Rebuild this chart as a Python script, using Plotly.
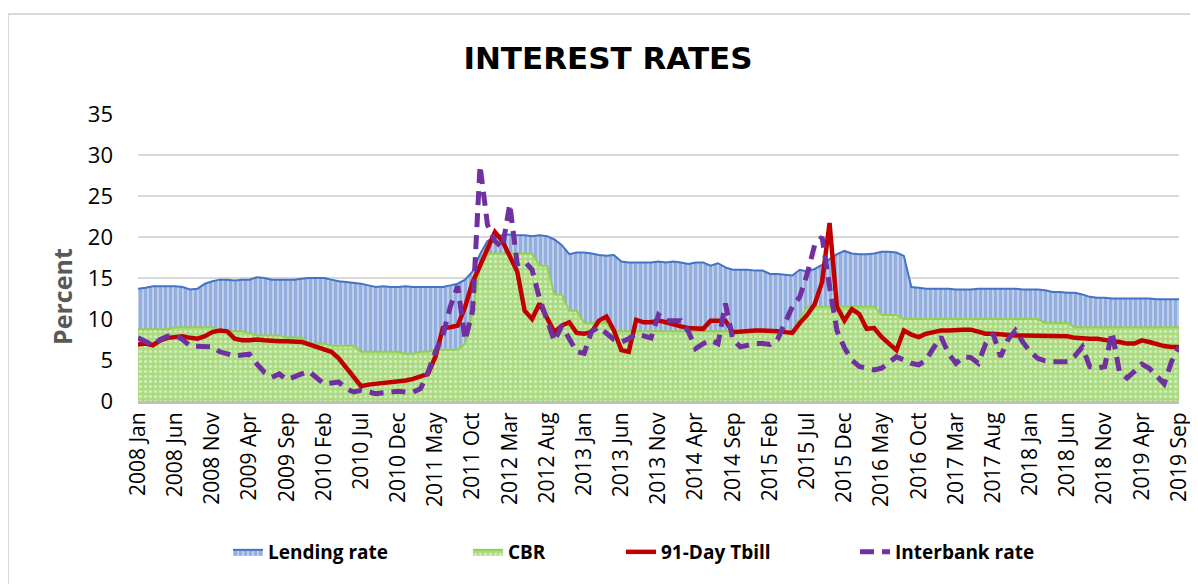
import plotly.graph_objects as go

# ---------------- data (monthly, 2008 Jan .. 2019 Sep) ----------------
years = list(range(2008, 2020))
month_names = ["Jan", "Feb", "Mar", "Apr", "May", "Jun",
               "Jul", "Aug", "Sep", "Oct", "Nov", "Dec"]
months = [f"{y} {m}" for y in years for m in month_names][:141]

lending_rate = [
    13.7, 13.8, 14.0, 14.0, 14.0, 14.0, 13.9, 13.6, 13.7, 14.3, 14.6, 14.8,   # 2008
    14.8, 14.7, 14.8, 14.8, 15.1, 15.0, 14.8, 14.8, 14.8, 14.8, 14.9, 15.0,   # 2009
    15.0, 15.0, 14.8, 14.6, 14.5, 14.4, 14.3, 14.1, 13.9, 14.0, 13.9, 13.9,   # 2010
    14.0, 13.9, 13.9, 13.9, 13.9, 13.9, 14.1, 14.3, 14.8, 15.8, 17.9, 19.5,   # 2011
    20.0, 20.2, 20.3, 20.2, 20.2, 20.1, 20.2, 20.1, 19.7, 19.0, 17.9, 18.1,   # 2012
    18.1, 18.0, 17.8, 17.7, 17.8, 17.0, 16.9, 16.9, 16.9, 16.9, 17.0, 16.9,   # 2013
    17.0, 16.9, 16.7, 16.9, 16.9, 16.5, 16.8, 16.3, 16.0, 16.0, 16.0, 15.9,   # 2014
    15.9, 15.5, 15.5, 15.4, 15.3, 16.0, 15.8, 16.1, 16.6, 17.3, 17.9, 18.3,   # 2015
    18.0, 17.9, 17.9, 18.0, 18.2, 18.2, 18.1, 17.7, 13.9, 13.8, 13.7, 13.7,   # 2016
    13.7, 13.7, 13.6, 13.6, 13.6, 13.7, 13.7, 13.7, 13.7, 13.7, 13.7, 13.6,   # 2017
    13.6, 13.6, 13.5, 13.3, 13.3, 13.2, 13.2, 13.0, 12.7, 12.6, 12.6, 12.5,   # 2018
    12.5, 12.5, 12.5, 12.5, 12.5, 12.4, 12.4, 12.4, 12.4,                     # 2019
]

cbr = [
    8.75, 8.75, 8.75, 8.75, 8.75, 9.0, 9.0, 9.0, 9.0, 9.0, 9.0, 8.5,          # 2008
    8.5, 8.5, 8.5, 8.25, 8.0, 8.0, 8.0, 8.0, 7.75, 7.75, 7.75, 7.0,           # 2009
    7.0, 7.0, 6.75, 6.75, 6.75, 6.75, 6.0, 6.0, 6.0, 6.0, 6.0, 6.0,           # 2010
    5.75, 5.75, 6.0, 6.0, 6.25, 6.25, 6.25, 6.25, 7.0, 11.0, 16.5, 18.0,      # 2011
    18.0, 18.0, 18.0, 18.0, 18.0, 18.0, 16.5, 16.5, 13.0, 13.0, 11.0, 11.0,   # 2012
    9.5, 9.5, 9.5, 9.5, 8.5, 8.5, 8.5, 8.5, 8.5, 8.5, 8.5, 8.5,               # 2013
    8.5, 8.5, 8.5, 8.5, 8.5, 8.5, 8.5, 8.5, 8.5, 8.5, 8.5, 8.5,               # 2014
    8.5, 8.5, 8.5, 8.5, 8.5, 10.0, 11.5, 11.5, 11.5, 11.5, 11.5, 11.5,        # 2015
    11.5, 11.5, 11.5, 11.5, 10.5, 10.5, 10.5, 10.0, 10.0, 10.0, 10.0, 10.0,   # 2016
    10.0, 10.0, 10.0, 10.0, 10.0, 10.0, 10.0, 10.0, 10.0, 10.0, 10.0, 10.0,   # 2017
    10.0, 10.0, 9.5, 9.5, 9.5, 9.5, 9.0, 9.0, 9.0, 9.0, 9.0, 9.0,             # 2018
    9.0, 9.0, 9.0, 9.0, 9.0, 9.0, 9.0, 9.0, 9.0,                              # 2019
]

tbill_91 = [
    6.9, 7.0, 6.8, 7.4, 7.7, 7.8, 7.9, 7.7, 7.6, 7.9, 8.4, 8.6,              # 2008
    8.5, 7.6, 7.4, 7.4, 7.5, 7.4, 7.3, 7.3, 7.3, 7.3, 7.2, 6.9,              # 2009
    6.6, 6.3, 6.0, 5.2, 4.1, 2.9, 1.8, 2.0, 2.1, 2.2, 2.3, 2.3,              # 2010
    2.5, 2.7, 3.0, 3.3, 5.4, 8.9, 9.0, 9.2, 11.5, 14.5, 16.5, 18.5,          # 2011
    20.6, 19.5, 17.5, 15.8, 11.0, 10.0, 11.9, 10.0, 8.4, 9.2, 9.6, 8.3,      # 2012
    8.2, 8.4, 9.8, 10.3, 8.6, 6.2, 6.0, 9.9, 9.6, 9.6, 9.8, 9.6,             # 2013
    9.3, 9.1, 8.9, 8.8, 8.8, 9.8, 9.8, 9.8, 8.4, 8.5, 8.6, 8.6,              # 2014
    8.6, 8.6, 8.5, 8.4, 8.3, 9.5, 10.5, 11.8, 14.5, 21.7, 11.5, 9.8,         # 2015
    11.2, 10.6, 8.8, 8.9, 7.8, 7.0, 6.2, 8.6, 8.1, 7.8, 8.2, 8.4,            # 2016
    8.6, 8.6, 8.7, 8.7, 8.7, 8.5, 8.2, 8.2, 8.1, 8.1, 8.0, 8.0,              # 2017
    8.0, 8.0, 8.0, 8.0, 8.0, 7.9, 7.7, 7.6, 7.6, 7.6, 7.4, 7.3,              # 2018
    7.2, 7.0, 7.0, 7.4, 7.2, 6.9, 6.7, 6.6, 6.6,                             # 2019
]

interbank_rate = [
    7.7, 7.2, 6.8, 7.5, 7.9, 8.0, 7.5, 6.7, 6.7, 6.7, 6.6, 6.0,              # 2008
    5.8, 5.5, 5.6, 5.7, 4.5, 3.5, 2.9, 3.3, 2.6, 3.0, 3.3, 3.6,              # 2009
    2.9, 2.1, 2.2, 2.3, 1.5, 1.1, 1.3, 1.1, 0.9, 1.0, 1.1, 1.2,              # 2010
    1.1, 1.1, 1.5, 3.5, 6.0, 8.0, 11.5, 14.0, 7.4, 11.0, 28.7, 21.5,         # 2011
    19.5, 18.7, 24.0, 16.7, 17.0, 16.0, 12.5, 10.0, 7.3, 9.2, 7.5, 6.0,      # 2012
    5.8, 8.5, 9.0, 8.2, 7.5, 7.2, 7.6, 8.2, 7.9, 7.7, 10.5, 9.8,             # 2013
    9.8, 9.8, 8.5, 6.4, 7.0, 7.4, 7.0, 11.9, 7.5, 6.6, 6.8, 7.0,             # 2014
    7.0, 6.9, 7.5, 9.5, 11.5, 12.7, 15.5, 19.0, 20.0, 14.0, 8.6, 6.5,        # 2015
    5.0, 4.2, 4.0, 3.8, 4.0, 4.8, 5.4, 5.0, 4.6, 4.4, 5.0, 6.5,              # 2016
    7.8, 5.8, 4.6, 5.4, 5.3, 4.6, 7.0, 8.2, 5.4, 7.5, 8.6, 7.2,              # 2017
    6.0, 5.2, 4.9, 4.8, 4.8, 4.8, 5.5, 6.6, 4.2, 4.0, 4.2, 8.4,              # 2018
    3.5, 2.8, 3.6, 4.5, 4.0, 3.0, 2.1, 4.8, 6.6,                             # 2019
]

x_idx = list(range(len(months)))
tick_idx = list(range(0, len(months), 5))
tick_labels = [months[i] for i in tick_idx]

FONT = "Open Sans"

fig = go.Figure()

fig.add_trace(go.Scatter(
    x=x_idx, y=lending_rate, name="Lending rate", mode="lines", legend="legend",
    line=dict(color="#4472c4", width=2),
    fill="tozeroy",
    fillpattern=dict(shape="|", fgcolor="#4472c4", bgcolor="#e4ecf8",
                     size=5, solidity=0.8),
))
fig.add_trace(go.Scatter(
    x=x_idx, y=cbr, name="CBR", mode="lines", legend="legend2",
    line=dict(color="#92d050", width=2),
    fill="tozeroy",
    fillpattern=dict(shape=".", fgcolor="#ffffff", bgcolor="#abdb80",
                     size=5, solidity=0.3),
))
fig.add_trace(go.Scatter(
    x=x_idx, y=tbill_91, name="91-Day Tbill", mode="lines", legend="legend3",
    line=dict(color="#c00000", width=4.5),
))
fig.add_trace(go.Scatter(
    x=x_idx, y=interbank_rate, name="Interbank rate", mode="lines", legend="legend4",
    line=dict(color="#7030a0", width=5, dash="14px,8px"),
))

# page body has an 8px margin: plot area must land at x 138..1179, y 114..401
PLOT_L, PLOT_R, PLOT_T, PLOT_B = 138, 1179, 114, 401
PW, PH = PLOT_R - PLOT_L, PLOT_B - PLOT_T


def px(xpix):
    return (xpix - PLOT_L) / PW


def py(ypix):
    return (PLOT_B - ypix) / PH


leg_font = dict(family=FONT, size=19, color="#000000", weight="bold")
leg_common = dict(orientation="h", xanchor="left", yanchor="middle", y=py(552),
                  font=leg_font, itemwidth=30, bgcolor="rgba(0,0,0,0)")

fig.update_layout(
    width=1198, height=584,
    margin=dict(l=PLOT_L - 8, r=1198 - (PLOT_R - 8), t=PLOT_T - 8, b=584 - (PLOT_B - 8)),
    paper_bgcolor="white", plot_bgcolor="white",
    font=dict(family=FONT, color="#000000"),
    title=dict(text="INTEREST RATES", x=(608 - 8) / 1198, xref="container", xanchor="center",
               y=1 - (58 - 8) / 584, yref="container", yanchor="middle",
               font=dict(family="DejaVu Sans", size=31, color="#000000", weight="bold")),
    showlegend=True,
    legend=dict(x=px(228), **leg_common),
    legend2=dict(x=px(468), **leg_common),
    legend3=dict(x=px(621), **leg_common),
    legend4=dict(x=px(855), **leg_common),
    xaxis=dict(range=[0, 140], tickmode="array", tickvals=tick_idx, ticktext=tick_labels,
               tickangle=-90, tickfont=dict(family=FONT, size=21, color="#000000"),
               showgrid=False, zeroline=False, showline=True, linecolor="#bfbfbf",
               linewidth=3, ticks=""),
    yaxis=dict(range=[0, 35], dtick=5, tickfont=dict(family=FONT, size=22, color="#000000"),
               showgrid=True, gridcolor="#d9d9d9", gridwidth=1.5, zeroline=False,
               showline=False, ticks="", ticklabelstandoff=24),
    annotations=[dict(text="<b>Percent</b>", x=px(62), y=py(297), xref="paper", yref="paper",
                      xanchor="center", yanchor="middle",
                      textangle=-90, showarrow=False,
                      font=dict(family=FONT, size=25, color="#595959"))],
    shapes=[dict(type="rect", xref="paper", yref="paper",
                 x0=px(8), x1=px(1210), y0=py(600), y1=py(14),
                 line=dict(color="#d9d9d9", width=2), fillcolor="rgba(0,0,0,0)",
                 layer="below")],
)

fig.write_html("out.html")
